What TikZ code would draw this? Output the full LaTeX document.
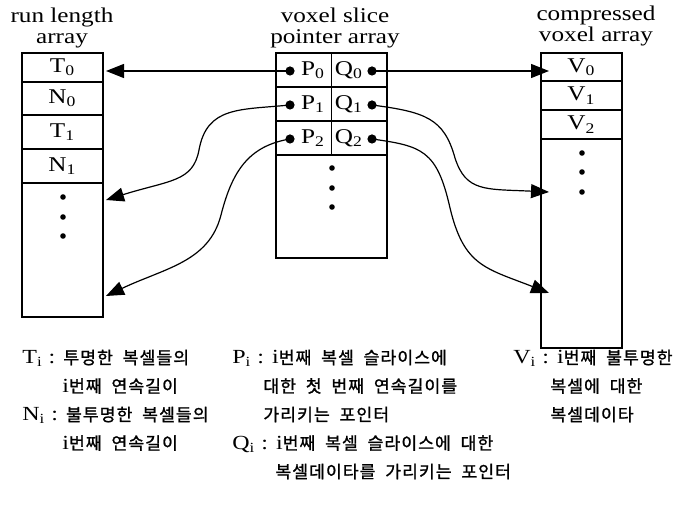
\documentclass[tikz,border=0pt]{standalone}
\usepackage{fontspec}
\setmainfont{Liberation Serif}[FakeStretch=1.2]
\newfontfamily\kor{Noto Sans CJK KR}[FakeBold=1.2, LetterSpace=6, WordSpace=2]
\usepackage{tikz}
\usetikzlibrary{arrows.meta, positioning, calc}
\tikzset{
  arraytitle/.style={
    align=center, inner sep=0pt, font=\fontsize{10.5}{10.5}\selectfont
  },
  arraycell/.style={
    draw, line width=0.7pt, inner sep=0pt, outer sep=0pt,
    minimum width=40.5pt, font=\fontsize{10.5}{11}\selectfont
  },
  ptrcell/.style={
    draw, line width=0.7pt, inner sep=0pt, outer sep=0pt,
    minimum width=27.75pt, minimum height=17pt
  },
  celltext/.style={inner sep=0pt, font=\fontsize{10.5}{11}\selectfont},
  ptrdot/.style={circle, fill, inner sep=0pt, minimum size=4.6pt},
  ptrarrow/.style={-{Triangle[length=9pt,width=7pt]}, line width=0.6pt},
  legendtext/.style={
    anchor=base west, inner sep=0pt, font=\fontsize{10}{11}\selectfont
  },
}
\newcommand\korsm[1]{{\kor\fontsize{8.6}{10}\selectfont #1}}

\begin{document}
\begin{tikzpicture}[x=0.5pt, y=-0.5pt]
  \useasboundingbox (0,0) rectangle (675,528);

  % run length array
  \node[arraytitle, anchor=south] (rltitle) at (62,48) {run length\\array};
  \node[arraycell, minimum height=14.5pt] (rl0) at (62.5,67.5) {T\textsubscript{0}};
  \node[arraycell, minimum height=16.5pt] (rl1) at (62.5,98.5) {N\textsubscript{0}};
  \node[arraycell, minimum height=17pt] (rl2) at (62.5,132) {T\textsubscript{1}};
  \node[arraycell, minimum height=17pt] (rl3) at (62.5,166) {N\textsubscript{1}};
  \node[arraycell, minimum height=67pt] (rltail) at (62.5,250) {};
  \foreach \y in {197,217,236}
    \fill (63,\y) circle[radius=1.4pt];

  % voxel slice pointer array
  \node[arraytitle, anchor=south] (pstitle) at (335,48) {voxel slice\\pointer array};
  \foreach \i in {0,1,2} {
    \pgfmathsetmacro\yc{70+34*\i}
    \node[ptrcell] (pcell\i) at (303.75,\yc) {};
    \node[ptrcell] (qcell\i) at (359.25,\yc) {};
    \node[ptrdot] (p\i) at (290,\yc+1) {};
    \node[ptrdot] (q\i) at (372,\yc+1) {};
    \node[celltext] (plab\i) at (313,\yc) {P\textsubscript{\i}};
    \node[celltext] (qlab\i) at (349,\yc) {Q\textsubscript{\i}};
  }
  \node[ptrcell, minimum width=55.5pt, minimum height=51.5pt] (pstail) at (331.5,206.5) {};
  \foreach \y in {168,188,207}
    \fill (332,\y) circle[radius=1.4pt];

  % compressed voxel array
  \node[arraytitle, anchor=south] (cvtitle) at (596,46) {compressed\\voxel array};
  \node[arraycell, minimum height=14pt] (cv0) at (581.5,67) {V\textsubscript{0}};
  \node[arraycell, minimum height=14.5pt] (cv1) at (581.5,95.5) {V\textsubscript{1}};
  \node[arraycell, minimum height=14.5pt] (cv2) at (581.5,124.5) {V\textsubscript{2}};
  \node[arraycell, minimum height=104.5pt] (cvtail) at (581.5,243.5) {};
  \foreach \y in {153,172,192}
    \fill (582,\y) circle[radius=1.4pt];

  % arrow ends
  \coordinate (rlin0) at (106,71);
  \coordinate (rlin1) at (106,200);
  \coordinate (rlin2) at (106,296);
  \coordinate (cvin0) at (549,71);
  \coordinate (cvin1) at (549,192);
  \coordinate (cvin2) at (549,293);

  % pointers
  \draw[ptrarrow] (p0.center) -- (rlin0);
  \draw[ptrarrow] (q0.center) -- (cvin0);
  \draw[ptrarrow] (p1.center) .. controls (240,110) and (207,106) .. (199,150)
    .. controls (193,182) and (170,180) .. (rlin1);
  \draw[ptrarrow] (p2.center) .. controls (248,146) and (232,172) .. (221,215)
    .. controls (209,262) and (165,268) .. (rlin2);
  \draw[ptrarrow] (q1.center) .. controls (425,112) and (444,118) .. (455,158)
    .. controls (466,192) and (485,189) .. (cvin1);
  \draw[ptrarrow] (q2.center) .. controls (422,146) and (437,150) .. (450,208)
    .. controls (464,266) and (485,268) .. (cvin2);

  % legend
  \node[legendtext] (lgt1) at (22,364) {T\textsubscript{i} : \korsm{투명한 복셀들의}};
  \node[legendtext] (lgt2) at (62,392.5) {i\korsm{번째 연속길이}};
  \node[legendtext] (lgn1) at (22,421) {N\textsubscript{i} : \korsm{불투명한 복셀들의}};
  \node[legendtext] (lgn2) at (62,449.5) {i\korsm{번째 연속길이}};
  \node[legendtext] (lgp1) at (232,364) {P\textsubscript{i} : i\korsm{번째 복셀 슬라이스에}};
  \node[legendtext] (lgp2) at (263,392.5) {\korsm{대한 첫 번째 연속길이를}};
  \node[legendtext] (lgp3) at (263,421) {\korsm{가리키는 포인터}};
  \node[legendtext] (lgq1) at (232,449.5) {Q\textsubscript{i} : i\korsm{번째 복셀 슬라이스에 대한}};
  \node[legendtext] (lgq2) at (275,478) {\korsm{복셀데이타를 가리키는 포인터}};
  \node[legendtext] (lgv1) at (513,364) {V\textsubscript{i} : i\korsm{번째 불투명한}};
  \node[legendtext] (lgv2) at (550,392.5) {\korsm{복셀에 대한}};
  \node[legendtext] (lgv3) at (550,421) {\korsm{복셀데이타}};
\end{tikzpicture}
\end{document}
